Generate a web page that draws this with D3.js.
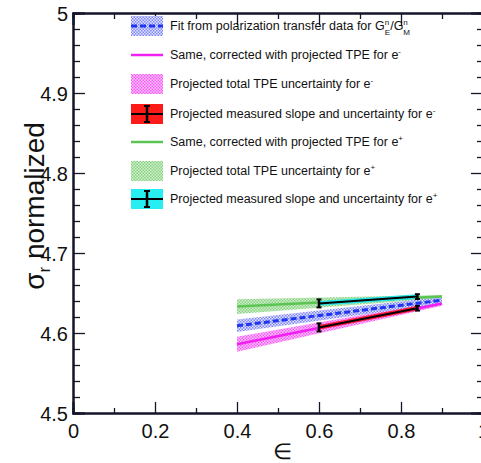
<!DOCTYPE html>
<html>
<head>
<meta charset="utf-8">
<script src="https://cdn.jsdelivr.net/npm/d3@7"></script>
<style>
body { margin: 0; background: #fff; }
svg { font-family: "Liberation Sans", Arial, sans-serif; }
</style>
</head>
<body>
<div id="plot"></div>
<script>
// tick values
var xMajor = [0, 0.2, 0.4, 0.6, 0.8, 1];
var xMinor = [0.1, 0.3, 0.5, 0.7, 0.9];
var yMajor = [4.5, 4.6, 4.7, 4.8, 4.9, 5];
var yMinor = [4.52, 4.54, 4.56, 4.58, 4.62, 4.64, 4.66, 4.68, 4.72, 4.74, 4.76, 4.78,
    4.82, 4.84, 4.86, 4.88, 4.92, 4.94, 4.96, 4.98];

// fit from polarization transfer (blue)
var fitEps = [0.4, 0.9];
var fitSigma = [4.609, 4.641];
var fitErr = [0.0078, 0.004];
// corrected for e- (magenta)
var eMinusEps = [0.4, 0.9];
var eMinusSigma = [4.586, 4.637];
var eMinusErr = [0.0094, 0.003];
// corrected for e+ (green)
var ePlusEps = [0.4, 0.9];
var ePlusSigma = [4.633, 4.6455];
var ePlusErr = [0.0092, 0.002];
// projected measured slopes
var measEps = [0.6, 0.84];
var measMinus = [4.607, 4.631];
var measMinusErr = [0.005, 0.003];
var measPlus = [4.637, 4.6455];
var measPlusErr = [0.005, 0.003];

var W = 481, H = 463;
var margin = {t: 13, r: -2, b: 50, l: 73};

var svg = d3.select('#plot').append('svg').attr('width', W).attr('height', H);

var x = d3.scaleLinear().domain([0, 1]).range([margin.l, W - margin.r]);
var y = d3.scaleLinear().domain([4.5, 5]).range([H - margin.b, margin.t]);

// fill patterns (ROOT-like dotted hatches)
var defs = svg.append('defs');
function pattern(id, bg, fg) {
    var p = defs.append('pattern').attr('id', id).attr('patternUnits', 'userSpaceOnUse')
        .attr('width', 3).attr('height', 3);
    p.append('rect').attr('width', 3).attr('height', 3).attr('fill', bg);
    p.append('rect').attr('x', 0).attr('y', 0).attr('width', 1.5).attr('height', 1.5).attr('fill', fg);
    p.append('rect').attr('x', 1.5).attr('y', 1.5).attr('width', 1.5).attr('height', 1.5).attr('fill', fg);
}
pattern('patBlue', '#e4e6ff', '#7d84f5');
pattern('patMag', '#ffc4ff', '#f35cf3');
pattern('patGreen', '#d4f0d2', '#86d27f');

function band(eps, val, err) {
    return eps.map(function(e, i){ return {e: e, lo: val[i] - err[i], hi: val[i] + err[i]}; });
}
function pts(eps, val) {
    return eps.map(function(e, i){ return {e: e, v: val[i]}; });
}
var area = d3.area().x(function(d){return x(d.e)}).y0(function(d){return y(d.lo)}).y1(function(d){return y(d.hi)});
var line = d3.line().x(function(d){return x(d.e)}).y(function(d){return y(d.v)});

var g = svg.append('g');
g.append('path').datum(band(eMinusEps, eMinusSigma, eMinusErr)).attr('d', area).attr('fill', 'url(#patMag)');
g.append('path').datum(band(ePlusEps, ePlusSigma, ePlusErr)).attr('d', area).attr('fill', 'url(#patGreen)');
g.append('path').datum(band(fitEps, fitSigma, fitErr)).attr('d', area).attr('fill', 'url(#patBlue)');

g.append('path').datum(pts(eMinusEps, eMinusSigma)).attr('d', line)
    .attr('fill', 'none').attr('stroke', '#f020f0').attr('stroke-width', 2.5);
g.append('path').datum(pts(ePlusEps, ePlusSigma)).attr('d', line)
    .attr('fill', 'none').attr('stroke', '#5cc453').attr('stroke-width', 2.5);

// measured slopes: colored band, black line, error bars
function measured(vals, errs, col) {
    g.append('path').datum(band(measEps, vals, [0.003, 0.003])).attr('d', area).attr('fill', col);
    g.append('path').datum(pts(measEps, vals)).attr('d', line)
        .attr('fill', 'none').attr('stroke', '#000').attr('stroke-width', 2);
    measEps.forEach(function(e, i) {
        var xx = x(e);
        g.append('line').attr('x1', xx).attr('x2', xx).attr('y1', y(vals[i] - errs[i])).attr('y2', y(vals[i] + errs[i]))
            .attr('stroke', '#000').attr('stroke-width', 2.5);
        [vals[i] - errs[i], vals[i] + errs[i]].forEach(function(v) {
            g.append('line').attr('x1', xx - 2.5).attr('x2', xx + 2.5).attr('y1', y(v)).attr('y2', y(v))
                .attr('stroke', '#000').attr('stroke-width', 2);
        });
    });
}
measured(measMinus, measMinusErr, '#ff1a40');
measured(measPlus, measPlusErr, '#27e3e3');

g.append('path').datum(pts(fitEps, fitSigma)).attr('d', line)
    .attr('fill', 'none').attr('stroke', '#1f35f0').attr('stroke-width', 3).attr('stroke-dasharray', '6,3');

// axes (ticks point inward)
var fmt = d3.format('');
function axis(a, cls, tx, ty) {
    return svg.append('g').attr('class', cls).attr('transform', 'translate(' + tx + ',' + ty + ')').call(a);
}
axis(d3.axisBottom(x).tickValues(xMajor).tickSize(-11).tickPadding(14).tickFormat(fmt), 'ax xb', 0, y(4.5));
axis(d3.axisBottom(x).tickValues(xMinor).tickSize(-5).tickFormat(''), 'ax xbm', 0, y(4.5));
axis(d3.axisTop(x).tickValues(xMajor).tickSize(-12).tickFormat(''), 'ax xt', 0, y(5));
axis(d3.axisTop(x).tickValues(xMinor).tickSize(-6).tickFormat(''), 'ax xtm', 0, y(5));
axis(d3.axisLeft(y).tickValues(yMajor).tickSize(-12).tickPadding(5).tickFormat(fmt), 'ax yl', x(0), 0);
axis(d3.axisLeft(y).tickValues(yMinor).tickSize(-7).tickFormat(''), 'ax ylm', x(0), 0);
axis(d3.axisRight(y).tickValues(yMajor).tickSize(-12).tickFormat(''), 'ax yr', x(1), 0);
axis(d3.axisRight(y).tickValues(yMinor).tickSize(-6).tickFormat(''), 'ax yrm', x(1), 0);

svg.selectAll('.ax path.domain').attr('stroke', '#14142a').attr('stroke-width', 2);
svg.selectAll('.ax line').attr('stroke', '#14142a').attr('stroke-width', 1.3);
svg.selectAll('.ax text').attr('font-size', 20).attr('fill', '#111').attr('font-family', 'Liberation Sans, Arial, sans-serif');
svg.selectAll('.xb text').attr('dy', '0.55em');
svg.selectAll('.yl text').attr('dy', '0.35em');

// axis titles
svg.append('text').attr('x', x(0.5) + 4).attr('y', 459).attr('text-anchor', 'middle')
    .attr('font-size', 22).attr('fill', '#111').text('\u2208');
var yt = svg.append('text').attr('transform', 'translate(44,206) rotate(-90)')
    .attr('text-anchor', 'middle').attr('font-size', 28).attr('fill', '#111');
yt.append('tspan').text('\u03c3');
yt.append('tspan').attr('font-size', 17).attr('dy', 6).text('r');
yt.append('tspan').attr('dy', -6).text(' normalized');

// legend
var legY = [26, 55, 84, 114, 142, 171, 199];
var lx0 = 131, lx1 = 163, tx = 170;
var leg = svg.append('g').attr('font-size', 12.5).attr('fill', '#111');
// parts: [text, dy, dx] ; small script when dy given
function legText(i, parts) {
    var t = leg.append('text').attr('x', tx).attr('y', legY[i]).attr('dy', '0.35em');
    parts.forEach(function(p) {
        var s = t.append('tspan').text(p[0]);
        if (p[1]) s.attr('dy', p[1]);
        if (p[1] && p[0] != '/G') s.attr('font-size', 8);
        if (p[2]) s.attr('dx', p[2]);
    });
}
function legBox(i, fill) {
    leg.append('rect').attr('x', lx0).attr('y', legY[i] - 10).attr('width', lx1 - lx0).attr('height', 20).attr('fill', fill);
}
function legLine(i, col, w, dash) {
    leg.append('line').attr('x1', lx0).attr('x2', lx1).attr('y1', legY[i]).attr('y2', legY[i])
        .attr('stroke', col).attr('stroke-width', w).attr('stroke-dasharray', dash || null);
}
function legErr(i) {
    var cx = (lx0 + lx1) / 2;
    legLine(i, '#000', 2);
    leg.append('line').attr('x1', cx).attr('x2', cx).attr('y1', legY[i] - 8).attr('y2', legY[i] + 8)
        .attr('stroke', '#000').attr('stroke-width', 2.5);
    [legY[i] - 8, legY[i] + 8].forEach(function(v) {
        leg.append('line').attr('x1', cx - 3).attr('x2', cx + 3).attr('y1', v).attr('y2', v).attr('stroke', '#000').attr('stroke-width', 2);
    });
}
legBox(0, 'url(#patBlue)'); legLine(0, '#1f35f0', 3, '6,3');
legLine(1, '#f020f0', 2.5);
legBox(2, 'url(#patMag)');
legBox(3, '#ff1a1a'); legErr(3);
legLine(4, '#5cc453', 2.5);
legBox(5, 'url(#patGreen)');
legBox(6, '#27eef0'); legErr(6);

legText(0, [['Fit from polarization transfer data for G'], ['E', 5], ['n', -10, -5.3], ['/G', 5, 1], ['M', 5], ['n', -10, -6.7]]);
legText(1, [['Same, corrected with projected TPE for e'], ['-', -5]]);
legText(2, [['Projected total TPE uncertainty for e'], ['-', -5]]);
legText(3, [['Projected measured slope and uncertainty for e'], ['-', -5]]);
legText(4, [['Same, corrected with projected TPE for e'], ['+', -5]]);
legText(5, [['Projected total TPE uncertainty for e'], ['+', -5]]);
legText(6, [['Projected measured slope and uncertainty for e'], ['+', -5]]);
</script>
</body>
</html>
